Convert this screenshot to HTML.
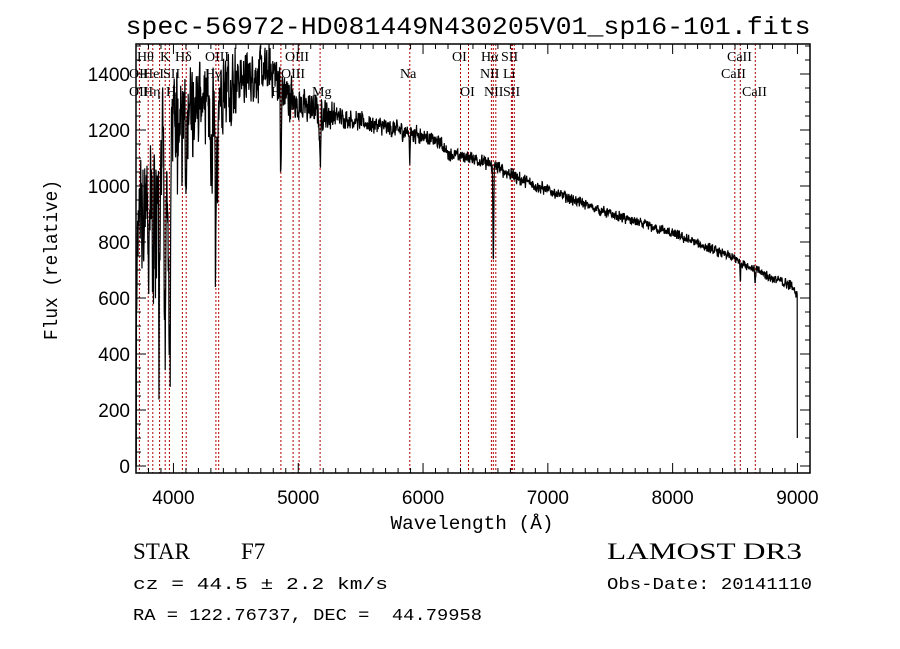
<!DOCTYPE html>
<html><head><meta charset="utf-8"><style>
html,body{margin:0;padding:0;background:#fff;}
svg{display:block;}
</style></head><body>
<svg id="s" width="900" height="649" viewBox="0 0 900 649" xmlns="http://www.w3.org/2000/svg">
<rect width="900" height="649" fill="#fff"/>
<g id="lines"></g>
<path id="spec" fill="none" stroke="#000" stroke-width="1.2"/>
<g id="axes" stroke="#000" stroke-width="1.5" fill="none"></g>
<g font-family="Liberation Serif, serif" font-size="14" fill="#000" id="lab">
<text x="137" y="61">Hθ</text><text x="160" y="61">K</text><text x="175" y="61">Hδ</text>
<text x="205" y="61">OIII</text><text x="285" y="61">OIII</text><text x="452" y="61">OI</text>
<text x="481" y="61">Hα</text><text x="501" y="61">SII</text><text x="727" y="61">CaII</text>
<text x="129" y="78">OII</text><text x="143" y="78">HeI</text><text x="163" y="78">SII</text>
<text x="205" y="78">Hγ</text><text x="281" y="78">OIII</text><text x="400" y="78">Na</text>
<text x="480" y="78">NII</text><text x="503" y="78">Li</text><text x="721" y="78">CaII</text>
<text x="129" y="96">OII</text><text x="143" y="96">Hη</text><text x="166" y="96">H</text>
<text x="271" y="96">Hβ</text><text x="312" y="96">Mg</text><text x="460" y="96">OI</text>
<text x="484" y="96">NII</text><text x="503" y="96">SII</text><text x="742" y="96">CaII</text>
</g>
<g font-family="Liberation Sans, sans-serif" font-size="19" fill="#000" id="ticklab"></g>
<text x="468" y="34" text-anchor="middle" font-family="Liberation Mono, monospace" font-size="25" textLength="685" lengthAdjust="spacingAndGlyphs">spec-56972-HD081449N430205V01_sp16-101.fits</text>
<text x="472" y="529" text-anchor="middle" font-family="Liberation Mono, monospace" font-size="19" textLength="163" lengthAdjust="spacingAndGlyphs">Wavelength (Å)</text>
<text transform="translate(57,260) rotate(-90)" text-anchor="middle" font-family="Liberation Mono, monospace" font-size="19" textLength="160" lengthAdjust="spacingAndGlyphs">Flux (relative)</text>
<g font-family="Liberation Serif, serif" fill="#000" font-size="23">
<text x="133" y="559">STAR</text>
<text x="241" y="559">F7</text>
<text x="607" y="559" textLength="195" lengthAdjust="spacingAndGlyphs">LAMOST DR3</text>
</g>
<g font-family="Liberation Mono, monospace" fill="#000" font-size="17">
<text x="133" y="589" textLength="255" lengthAdjust="spacingAndGlyphs">cz = 44.5 ± 2.2 km/s</text>
<text x="607" y="589" textLength="205" lengthAdjust="spacingAndGlyphs">Obs-Date: 20141110</text>
<text x="133" y="620" textLength="349" lengthAdjust="spacingAndGlyphs" xml:space="preserve">RA = 122.76737, DEC =&#160; 44.79958</text>
</g>
</svg>
<script>
(function(){
var L=136,R=810,T=44,B=473;
function X(w){return L+(w-3700)*0.1248;}
function Y(v){return 466-0.28*v;}
var ns="http://www.w3.org/2000/svg";
function el(p,n,a){var e=document.createElementNS(ns,n);for(var k in a)e.setAttribute(k,a[k]);p.appendChild(e);return e;}
var lw=[3727,3798,3835,3889,3934,3968,4072,4102,4340,4363,4861,4959,5007,5175,5894,6300,6364,6548,6563,6583,6708,6716,6731,8498,8542,8662];
var lg=document.getElementById('lines');
lw.forEach(function(w){var x=X(w).toFixed(1);el(lg,'line',{x1:x,x2:x,y1:T,y2:B,stroke:'#b00000','stroke-width':1,'stroke-dasharray':'2,2'});});
var seed=12345;function rnd(){seed=(seed*1103515245+12345)%2147483648;return seed/2147483648;}
var cp=[[3700,500],[3720,900],[3800,1000],[3900,1100],[4000,1280],[4100,1320],[4300,1320],[4450,1370],[4600,1390],[4800,1410],[4900,1330],[5000,1290],[5200,1260],[5400,1240],[5600,1220],[5800,1200],[6000,1180],[6150,1150],[6200,1115],[6400,1100],[6600,1065],[6800,1020],[7000,985],[7500,900],[8000,830],[8500,740],[8800,670],[8950,645],[8995,615]];
function cont(w){for(var i=0;i<cp.length-1;i++){if(w<=cp[i+1][0]){var t=(w-cp[i][0])/(cp[i+1][0]-cp[i][0]);return cp[i][1]+t*(cp[i+1][1]-cp[i][1]);}}return 615;}
var ab=[[3798,250,5],[3835,300,5],[3889,400,6],[3934,650,7],[3968,750,8],[4102,400,5],[4305,250,6],[4340,500,7],[4861,350,4],[5175,180,5],[5894,90,3],[6563,330,3.5],[8542,60,3],[8662,50,3]];
var d='';var prev=0;
for(var w=3700;w<=8998;w+=2){
 var f=cont(w);
 ab.forEach(function(a){f-=a[1]*Math.exp(-0.5*Math.pow((w-a[0])/a[2],2));});
 var amp=w<4000?250:w<4500?160:w<4950?110:w<5300?70:w<6000?40:w<7000?28:22;
 var r=rnd()-0.5;var n=r*amp*2;
 if(w<4400&&rnd()<0.15)n-=amp*2.5*rnd();
 var v=0.6*n+0.4*prev;prev=n;f+=v;
 if(w<3704)f=0;
 d+=(d?'L':'M')+X(w).toFixed(2)+' '+Y(Math.max(f,-20)).toFixed(2);
}
d+='L'+X(8999).toFixed(2)+' '+Y(100).toFixed(2);
d='M'+X(3700.5).toFixed(2)+' '+Y(0)+'L'+X(3700.5).toFixed(2)+' '+Y(500)+'L'+d.slice(1);
document.getElementById('spec').setAttribute('d',d);
var ax=document.getElementById('axes');
el(ax,'rect',{x:L,y:T,width:R-L,height:B-T});
for(var w=3700;w<=9100;w+=100){var x=X(w);var maj=(w%1000==0);var h=maj?10:5;
 el(ax,'line',{x1:x,x2:x,y1:B,y2:B-h,'stroke-width':1});el(ax,'line',{x1:x,x2:x,y1:T,y2:T+h,'stroke-width':1});}
for(var v=0;v<=1500;v+=50){var y=Y(v);var maj=(v%200==0);var h=maj?10:5;
 el(ax,'line',{x1:L,x2:L+h,y1:y,y2:y,'stroke-width':1});el(ax,'line',{x1:R,x2:R-h,y1:y,y2:y,'stroke-width':1});}
var tl=document.getElementById('ticklab');
for(var w=4000;w<=9000;w+=1000){var t=el(tl,'text',{x:X(w),y:504,'text-anchor':'middle'});t.textContent=w;}
for(var v=0;v<=1400;v+=200){var t=el(tl,'text',{x:130,y:Y(v)+7,'text-anchor':'end'});t.textContent=v;}
})();
</script>
</body></html>
